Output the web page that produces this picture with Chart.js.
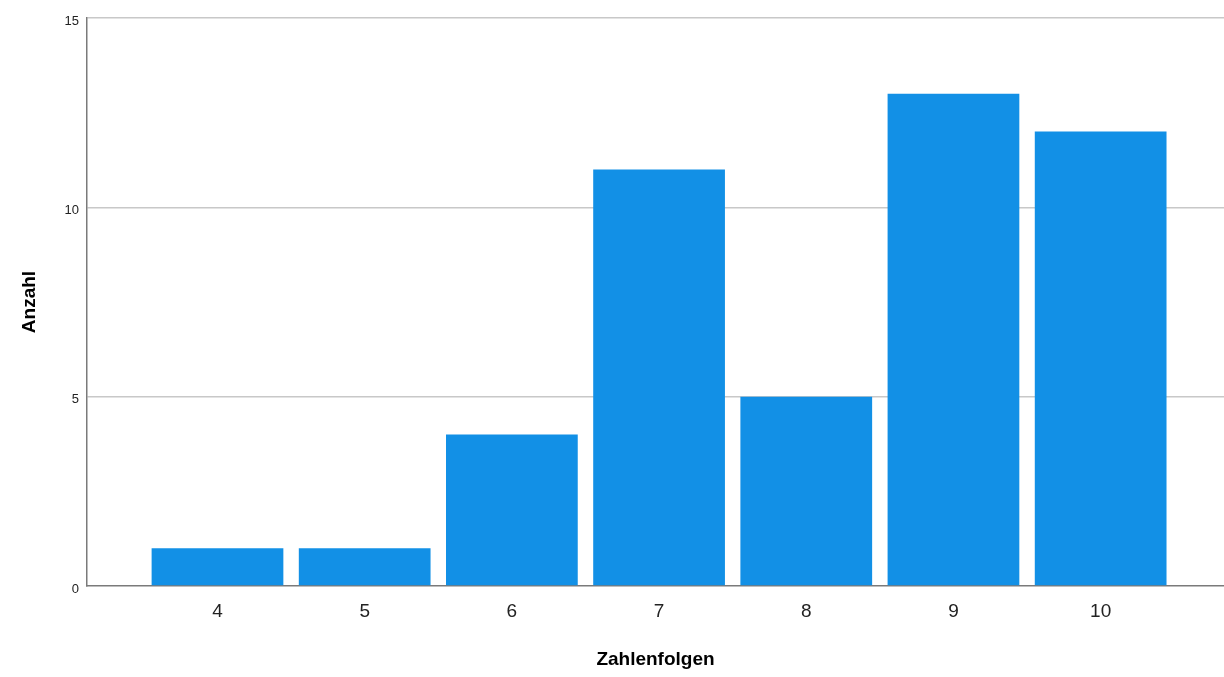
<!DOCTYPE html>
<html>
<head>
<meta charset="utf-8">
<script src="https://cdn.jsdelivr.net/npm/chart.js@4.4.1/dist/chart.umd.min.js"></script>
<style>
html,body{margin:0;padding:0;background:#fff;}
#wrap{width:1224px;height:677px;position:relative;}
</style>
</head>
<body>
<div id="wrap"><canvas id="c"></canvas></div>
<script>
const categories = [4, 5, 6, 7, 8, 9, 10];
const counts = [1, 1, 4, 11, 5, 13, 12];
const yTicks = [0, 5, 10, 15];
const xTitle = 'Zahlenfolgen';
const yTitle = 'Anzahl';

const data = categories.map((c, i) => ({x: c, y: counts[i]}));

new Chart(document.getElementById('c'), {
  type: 'bar',
  data: {
    datasets: [{
      data: data,
      backgroundColor: '#1290e6',
      borderWidth: 0,
      barPercentage: 0.895,
      categoryPercentage: 1
    }]
  },
  options: {
    responsive: true,
    maintainAspectRatio: false,
    animation: false,
    layout: {padding: {top: 18, right: 0, bottom: 0, left: 0}},
    plugins: {legend: {display: false}, tooltip: {enabled: false}},
    scales: {
      x: {
        type: 'linear',
        offset: false,
        min: 3.1135,
        max: 10.838,
        afterBuildTicks: s => { s.ticks = categories.map(v => ({value: v})); },
        afterFit: s => { s.height = 91; },
        grid: {display: false, drawTicks: false, offset: false},
        border: {display: true, color: '#7a7a7a', width: 1.5},
        ticks: {
          padding: 14,
          color: '#222',
          font: {family: 'Liberation Sans, Arial, sans-serif', size: 19},
          maxRotation: 0,
          autoSkip: false
        },
        title: {
          display: true, text: xTitle, color: '#000',
          font: {family: 'Liberation Sans, Arial, sans-serif', size: 19, weight: 'bold'},
          padding: {top: 0, bottom: 6}
        }
      },
      y: {
        min: 0, max: 15,
        afterBuildTicks: s => { s.ticks = yTicks.map(v => ({value: v})); },
        afterFit: s => { s.width = 87; },
        grid: {
          color: ctx => ctx.tick && ctx.tick.value === 0 ? 'rgba(0,0,0,0)' : '#c8c8c8',
          lineWidth: 1.5, drawTicks: false
        },
        border: {display: true, color: '#7a7a7a', width: 1.5},
        ticks: {
          padding: 8,
          labelOffset: 3,
          color: '#222',
          font: {family: 'Liberation Sans, Arial, sans-serif', size: 13}
        },
        title: {
          display: true, text: yTitle, color: '#000',
          font: {family: 'Liberation Sans, Arial, sans-serif', size: 19, weight: 'bold'},
          padding: {top: 18, bottom: 0}
        }
      }
    }
  }
});
</script>
</body>
</html>
